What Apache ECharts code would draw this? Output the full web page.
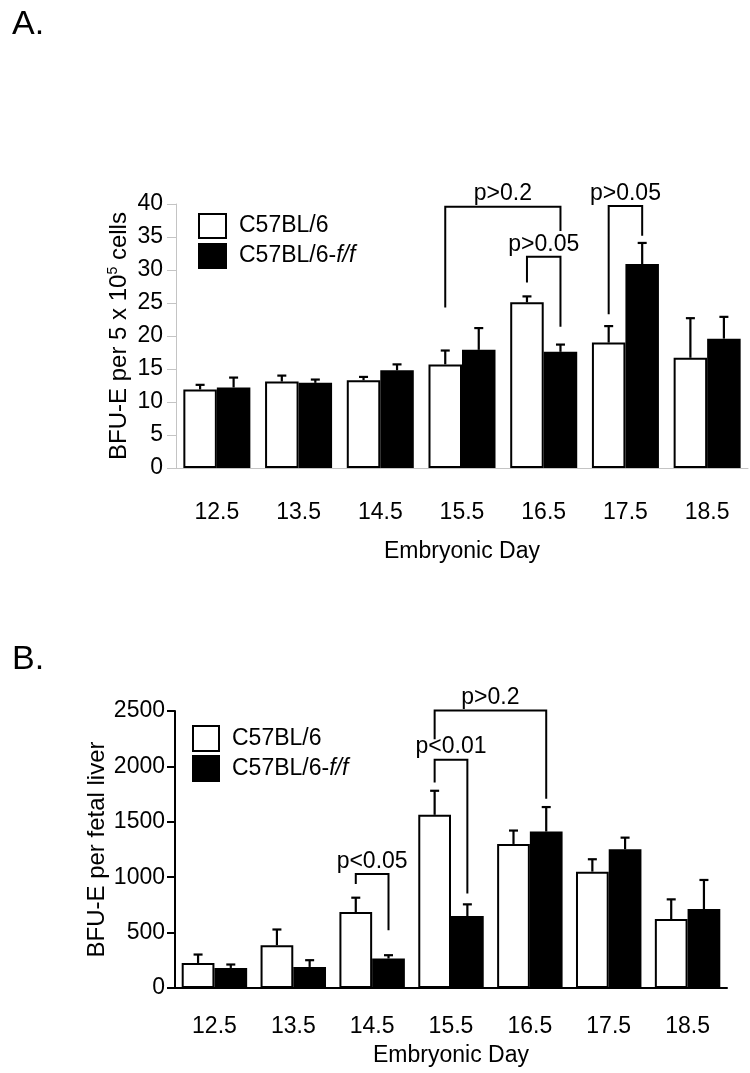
<!DOCTYPE html>
<html>
<head>
<meta charset="utf-8">
<script src="https://cdn.jsdelivr.net/npm/echarts@6/dist/echarts.min.js"></script>
<style>
  html, body { margin: 0; padding: 0; background: #fff; }
  #chart { width: 750px; height: 1073px; }
</style>
</head>
<body>
<div id="chart"></div>
<script>
const FONT = "'Liberation Sans', Arial, sans-serif";

const DAYS = ["12.5", "13.5", "14.5", "15.5", "16.5", "17.5", "18.5"];
const SERIES_NAMES = ["C57BL/6", "C57BL/6-f/f"];

// Panel A: BFU-E per 5 x 10^5 cells. *_ERR holds the top of each error bar.
const A_WT = [11.9, 13.1, 13.3, 15.7, 25.1, 19.0, 16.7];
const A_WT_ERR = [12.6, 14.0, 13.8, 17.8, 26.0, 21.5, 22.7];
const A_FF = [12.2, 12.9, 14.8, 17.9, 17.6, 30.9, 19.6];
const A_FF_ERR = [13.7, 13.4, 15.7, 21.2, 18.7, 34.1, 22.9];

// Panel B: BFU-E per fetal liver.
const B_WT = [226, 386, 685, 1563, 1300, 1050, 622];
const B_WT_ERR = [302, 528, 815, 1780, 1421, 1162, 800];
const B_FF = [181, 190, 266, 649, 1412, 1252, 712];
const B_FF_ERR = [212, 251, 296, 755, 1633, 1357, 975];

// Brackets: [leftDay, leftSeries, rightDay, rightSeries, top, leftEnd, rightEnd]
// (series 0 = C57BL/6, 1 = C57BL/6-f/f; y values in axis units)
const A_BRACKETS = [
  [3, 0, 4, 1, 39.6, 24.3, 35.9],
  [4, 0, 4, 1, 32.0, 28.1, 21.4],
  [5, 0, 5, 1, 39.7, 23.3, 35.2],
];
const A_BRACKET_LABELS = ["p>0.2", "p>0.05", "p>0.05"];
const B_BRACKETS = [
  [2, 0, 2, 1, 1029, 938, 522],
  [3, 0, 3, 1, 2061, 1855, 854],
  [3, 0, 4, 1, 2504, 2245, 1708],
];
const B_BRACKET_LABELS = ["p<0.05", "p<0.01", "p>0.2"];

const GAP_A = 0.18;
const GAP_B = 0.17;

function errorData(wt, wtErr, ff, ffErr) {
  const out = [];
  wt.forEach((v, i) => out.push([i, 0, v, wtErr[i]]));
  ff.forEach((v, i) => out.push([i, 1, v, ffErr[i]]));
  return out;
}

// x of a bar centre: category centre shifted by half a bar to either side
function barX(api, cat, side, gap) {
  const band = api.size([1, 0])[0];
  const half = (band * (1 - gap)) / 4;
  return api.coord([cat, 0])[0] + (side === 0 ? -half : half);
}

function errorRenderer(gap) {
  return (params, api) => {
    const x = barX(api, api.value(0), api.value(1), gap);
    const y0 = api.coord([api.value(0), api.value(2)])[1];
    const y1 = api.coord([api.value(0), api.value(3)])[1];
    const st = { stroke: "#000", lineWidth: 2.2 };
    return {
      type: "group",
      children: [
        { type: "line", shape: { x1: x, y1: y0, x2: x, y2: y1 }, style: st },
        { type: "line", shape: { x1: x - 4.5, y1: y1, x2: x + 4.5, y2: y1 }, style: st },
      ],
    };
  };
}

function bracketRenderer(gap, labels) {
  return (params, api) => {
    const xl = barX(api, api.value(0), api.value(1), gap);
    const xr = barX(api, api.value(2), api.value(3), gap);
    const yt = api.coord([0, api.value(4)])[1];
    const yl = api.coord([0, api.value(5)])[1];
    const yr = api.coord([0, api.value(6)])[1];
    return {
      type: "group",
      children: [
        {
          type: "polyline",
          shape: { points: [[xl, yl], [xl, yt], [xr, yt], [xr, yr]] },
          style: { stroke: "#000", lineWidth: 2, fill: null },
        },
        {
          type: "text",
          style: {
            text: labels[params.dataIndex],
            x: (xl + xr) / 2,
            y: yt - 1,
            align: "center",
            verticalAlign: "bottom",
            fontSize: 23,
            fontFamily: FONT,
            fill: "#000",
          },
        },
      ],
    };
  };
}

function barSeries(name, data, fill, axis, gap) {
  return {
    name,
    type: "bar",
    xAxisIndex: axis,
    yAxisIndex: axis,
    data,
    barGap: 0,
    barCategoryGap: gap * 100 + "%",
    itemStyle: { color: fill, borderColor: "#000", borderWidth: 2 },
    emphasis: { disabled: true },
  };
}

const legendText = {
  color: "#000",
  fontSize: 23,
  lineHeight: 24,
  fontFamily: FONT,
  padding: [0, 0, 0, 8],
  rich: { i: { fontSize: 23, lineHeight: 24, fontFamily: FONT, fontStyle: "italic", color: "#000" } },
};
const legendFormatter = (name) => (name === SERIES_NAMES[1] ? "C57BL/6-{i|f/f}" : name);

const axisNameRich = {
  n: { fontSize: 24, fontFamily: FONT, color: "#000", lineHeight: 27 },
  sup: { fontSize: 14, fontFamily: FONT, color: "#000", lineHeight: 27, verticalAlign: "top" },
};

const GRAY = "#c4c4c4";
const labelStyle = { color: "#000", fontSize: 23, fontFamily: FONT };

const option = {
  animation: false,
  backgroundColor: "#fff",
  textStyle: { fontFamily: FONT },
  graphic: [
    { type: "text", x: 12, y: 25, style: { text: "A.", fontSize: 34, fontFamily: FONT, fill: "#000", verticalAlign: "middle" } },
    { type: "text", x: 12, y: 660, style: { text: "B.", fontSize: 34, fontFamily: FONT, fill: "#000", verticalAlign: "middle" } },
  ],
  grid: [
    { left: 176, top: 204, width: 572, height: 264 },
    { left: 175, top: 711, width: 552, height: 277 },
  ],
  legend: [
    {
      data: SERIES_NAMES, orient: "vertical", left: 193, top: 208,
      itemWidth: 27, itemHeight: 24, itemGap: 4, icon: "rect",
      selectedMode: false, textStyle: legendText, formatter: legendFormatter,
    },
    {
      data: SERIES_NAMES, orient: "vertical", left: 187, top: 720,
      itemWidth: 26, itemHeight: 25, itemGap: 3, icon: "rect",
      selectedMode: false, textStyle: legendText, formatter: legendFormatter,
    },
  ],
  xAxis: [
    {
      type: "category", gridIndex: 0, data: DAYS,
      axisLine: { lineStyle: { color: GRAY, width: 1 } },
      axisTick: { length: 5, lineStyle: { color: GRAY } },
      axisLabel: { ...labelStyle, margin: 33 },
      name: "Embryonic Day", nameLocation: "middle", nameGap: 72,
      nameTextStyle: labelStyle,
    },
    {
      type: "category", gridIndex: 1, data: DAYS,
      axisLine: { lineStyle: { color: "#000", width: 2 } },
      axisTick: { length: 8, lineStyle: { color: "#000", width: 2 } },
      axisLabel: { ...labelStyle, margin: 27 },
      name: "Embryonic Day", nameLocation: "middle", nameGap: 56,
      nameTextStyle: labelStyle,
    },
  ],
  yAxis: [
    {
      type: "value", gridIndex: 0, min: 0, max: 40, interval: 5,
      axisLine: { show: true, lineStyle: { color: GRAY, width: 1 } },
      axisTick: { show: true, length: 9, lineStyle: { color: GRAY } },
      splitLine: { show: false },
      axisLabel: { ...labelStyle, margin: 13 },
      name: "{n|BFU-E per 5 x 10}{sup|5}{n| cells}", nameLocation: "middle", nameGap: 43,
      nameMoveOverlap: false,
      nameTextStyle: { rich: axisNameRich },
    },
    {
      type: "value", gridIndex: 1, min: 0, max: 2500, interval: 500,
      axisLine: { show: true, lineStyle: { color: "#000", width: 2 } },
      axisTick: { show: true, length: 8, lineStyle: { color: "#000", width: 2 } },
      splitLine: { show: false },
      axisLabel: { ...labelStyle, margin: 10, formatter: (v) => String(v) },
      name: "BFU-E per fetal liver", nameLocation: "middle", nameGap: 66,
      nameMoveOverlap: false,
      nameTextStyle: { ...labelStyle, fontSize: 24 },
    },
  ],
  series: [
    barSeries(SERIES_NAMES[0], A_WT, "#fff", 0, GAP_A),
    barSeries(SERIES_NAMES[1], A_FF, "#000", 0, GAP_A),
    barSeries(SERIES_NAMES[0], B_WT, "#fff", 1, GAP_B),
    barSeries(SERIES_NAMES[1], B_FF, "#000", 1, GAP_B),
    {
      type: "custom", xAxisIndex: 0, yAxisIndex: 0, z: 5,
      data: errorData(A_WT, A_WT_ERR, A_FF, A_FF_ERR),
      encode: { x: 0, y: 3 }, renderItem: errorRenderer(GAP_A),
    },
    {
      type: "custom", xAxisIndex: 1, yAxisIndex: 1, z: 5,
      data: errorData(B_WT, B_WT_ERR, B_FF, B_FF_ERR),
      encode: { x: 0, y: 3 }, renderItem: errorRenderer(GAP_B),
    },
    {
      type: "custom", xAxisIndex: 0, yAxisIndex: 0, z: 6,
      data: A_BRACKETS, encode: { x: 0, y: 4 },
      renderItem: bracketRenderer(GAP_A, A_BRACKET_LABELS),
    },
    {
      type: "custom", xAxisIndex: 1, yAxisIndex: 1, z: 6,
      data: B_BRACKETS, encode: { x: 0, y: 4 },
      renderItem: bracketRenderer(GAP_B, B_BRACKET_LABELS),
    },
  ],
};

const chart = echarts.init(document.getElementById("chart"), null, { renderer: "canvas" });
chart.setOption(option);
</script>
</body>
</html>
